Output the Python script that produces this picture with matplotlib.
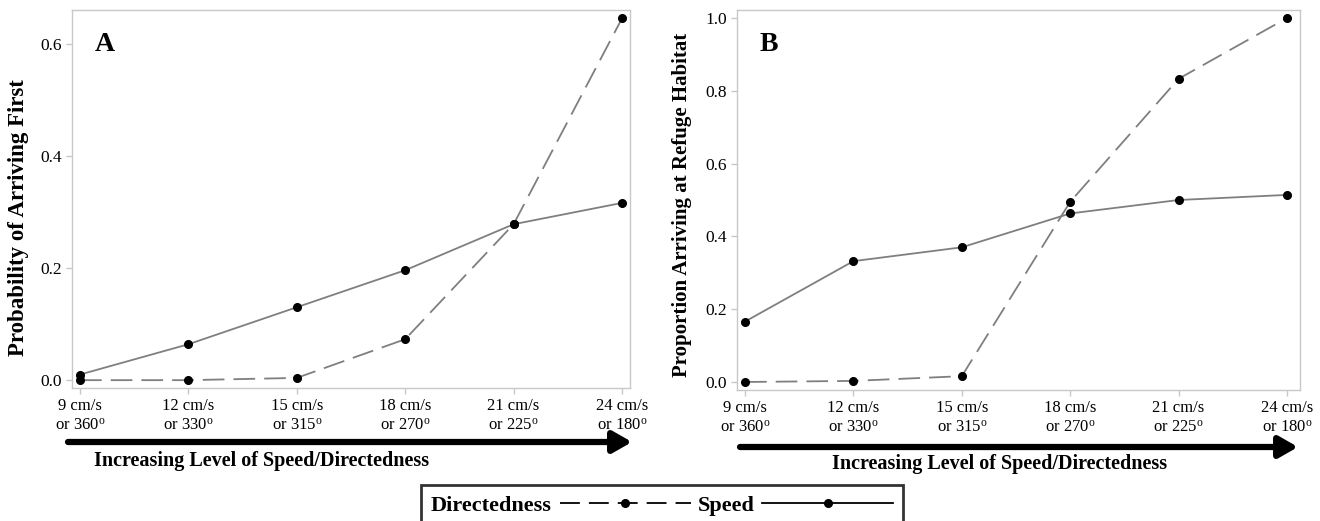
import matplotlib
matplotlib.use("Agg")
import matplotlib.pyplot as plt
from matplotlib.lines import Line2D

plt.rcParams['font.family'] = ['Liberation Serif', 'DejaVu Serif']
plt.rcParams['mathtext.fontset'] = 'custom'
plt.rcParams['mathtext.rm'] = 'Liberation Serif'
plt.rcParams['mathtext.it'] = 'Liberation Serif:italic'

# Data
levels = ['9 cm/s\nor 360$^{\\mathrm{o}}$', '12 cm/s\nor 330$^{\\mathrm{o}}$',
          '15 cm/s\nor 315$^{\\mathrm{o}}$', '18 cm/s\nor 270$^{\\mathrm{o}}$',
          '21 cm/s\nor 225$^{\\mathrm{o}}$', '24 cm/s\nor 180$^{\\mathrm{o}}$']

speed_a = [0.010, 0.064, 0.130, 0.196, 0.278, 0.316]
direct_a = [0.000, 0.000, 0.004, 0.073, 0.278, 0.645]

speed_b = [0.166, 0.332, 0.370, 0.463, 0.500, 0.514]
direct_b = [0.000, 0.003, 0.016, 0.495, 0.833, 1.000]

line_col = '#7f7f7f'
spine_col = '#c8c8c8'
dash = (12, 5)

fig = plt.figure(figsize=(13.2, 5.21), dpi=100)
W, H = 1320.0, 521.0

def make_panel(left, right, top, bottom, speed, direct, yticks, ylim, xlim,
               ylabel, ylab_size, ylab_xy, letter):
    ax = fig.add_axes([left / W, 1 - bottom / H, (right - left) / W, (bottom - top) / H])
    x = list(range(len(levels)))
    ax.plot(x, speed, color=line_col, lw=1.3, zorder=2)
    ax.plot(x, direct, color=line_col, lw=1.3, dashes=dash, zorder=2)
    ax.plot(x, speed, 'o', color='black', ms=5.5, zorder=3)
    ax.plot(x, direct, 'o', color='black', ms=5.5, zorder=3)
    ax.set_xlim(xlim)
    ax.set_ylim(ylim)
    ax.set_xticks(x)
    ax.set_xticklabels(levels, fontsize=12, linespacing=1.25)
    ax.set_yticks(yticks)
    ax.set_yticklabels([f'{v:.1f}' for v in yticks], fontsize=12.5)
    for s in ax.spines.values():
        s.set_color(spine_col)
        s.set_linewidth(1.0)
    ax.tick_params(colors=spine_col, labelcolor='black', length=4, width=1)
    ax.set_ylabel(ylabel, fontsize=ylab_size, fontweight='bold')
    ax.yaxis.set_label_coords(*ylab_xy)
    ax.text(0.04, 0.91, letter, transform=ax.transAxes, fontsize=20,
            fontweight='bold', ha='left', va='center')
    return ax

ax1 = make_panel(72, 630, 10, 388, speed_a, direct_a, [0.0, 0.2, 0.4, 0.6],
                 (-0.014, 0.66), (-0.074, 5.074),
                 'Probability of Arriving First', 16.5, (-0.077, 0.452), 'A')
ax2 = make_panel(737, 1300, 10, 390, speed_b, direct_b, [0.0, 0.2, 0.4, 0.6, 0.8, 1.0],
                 (-0.022, 1.022), (-0.074, 5.12),
                 'Proportion Arriving at Refuge Habitat', 15, (-0.080, 0.487), 'B')

# Arrows under the x axes
for x0, x1, y in [(68, 632, 442), (740, 1298, 447)]:
    fig.add_artist(matplotlib.patches.FancyArrowPatch(
        (x0 / W, 1 - y / H), (x1 / W, 1 - y / H), transform=fig.transFigure,
        arrowstyle='-|>,head_length=7,head_width=4', mutation_scale=1.6,
        color='black', lw=4.5, shrinkA=0, shrinkB=0))

for cx, y in [(262, 461), (1000, 464)]:
    fig.text(cx / W, 1 - y / H, 'Increasing Level of Speed/Directedness',
             fontsize=14.5, fontweight='bold', ha='center', va='center')

# Legend
handles = [Line2D([], [], color='black', lw=1.3, dashes=(11, 5), marker='o', ms=5.5),
           Line2D([], [], color='black', lw=1.3, marker='o', ms=5.5)]
leg = fig.legend(handles, ['Directedness', 'Speed'], loc='upper center',
                 bbox_to_anchor=(662 / W, 1 - 485 / H), ncol=2, markerfirst=False,
                 frameon=True, fancybox=False, handlelength=5.9, handletextpad=0.35,
                 columnspacing=0.3, borderpad=0.45, borderaxespad=0,
                 prop={'size': 16, 'weight': 'bold'})
leg.get_frame().set_edgecolor('black')
leg.get_frame().set_linewidth(2.0)

fig.savefig('out.png', dpi=100)
